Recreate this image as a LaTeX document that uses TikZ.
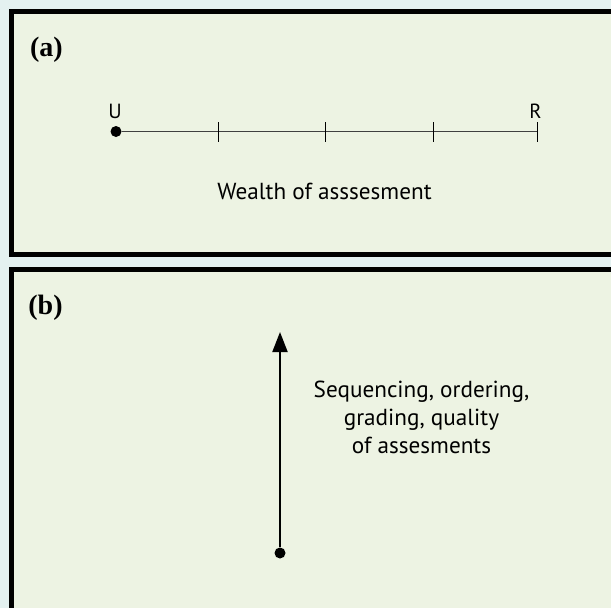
\documentclass[tikz,border=0pt]{standalone}
\usepackage{fontspec}
\setmainfont{PT Sans}
\newfontfamily\tagfont{Liberation Serif}
\usetikzlibrary{arrows.meta,positioning}
\definecolor{pagebg}{RGB}{228,241,240}
\definecolor{panelfill}{RGB}{237,243,227}
\tikzset{
  panel/.style={draw=black, line width=5pt, fill=panelfill},
  tag/.style={font=\tagfont\bfseries\fontsize{28}{28}\selectfont, inner sep=0pt},
  lbl/.style={font=\fontsize{23.2}{28}\selectfont, align=center, inner sep=0pt},
  endlbl/.style={font=\fontsize{20.5}{20.5}\selectfont, inner sep=0pt},
  dot/.style={circle, fill=black, inner sep=0pt, minimum size=11pt},
  axis/.style={line width=1pt, black!75},
  tick/.style={line width=1pt, black},
  arrow/.style={-{Triangle[length=20pt,width=15pt]}, line width=2pt},
}

\begin{document}
\begin{tikzpicture}[x=1pt,y=-1pt]
  \useasboundingbox (0,0) rectangle (611,608);
  \fill[pagebg] (0,0) rectangle (611,608);
  \clip (0,0) rectangle (611,608);
  % panel (a)
  \draw[panel] (11.5,11.5) rectangle (625,254.5);
  \node[tag] (taga) at (46.5,50) {(a)};
  \node[dot] (u) at (116,131.5) {};
  \coordinate (r) at (537,131.5);
  \draw[axis] (u) -- (r);
  \foreach \x in {218,325,433,537}
    \draw[tick] (\x,122) -- (\x,142);
  \node[endlbl, anchor=base] (ulbl) at (115,118) {U};
  \node[endlbl, anchor=base] (rlbl) at (535.5,118) {R};
  \node[lbl, anchor=base] (wealth) at (324.5,199) {Wealth of asssesment};
  % panel (b)
  \draw[panel] (11.5,269.5) rectangle (625,625);
  \node[tag] (tagb) at (45.5,308) {(b)};
  \node[dot] (start) at (280,553) {};
  \coordinate (tip) at (280,332);
  \draw[arrow] (start) -- (tip);
  \node[lbl, anchor=base] (seq) at (421.5,453) {Sequencing, ordering,\\grading, quality\\of assesments};
\end{tikzpicture}
\end{document}
